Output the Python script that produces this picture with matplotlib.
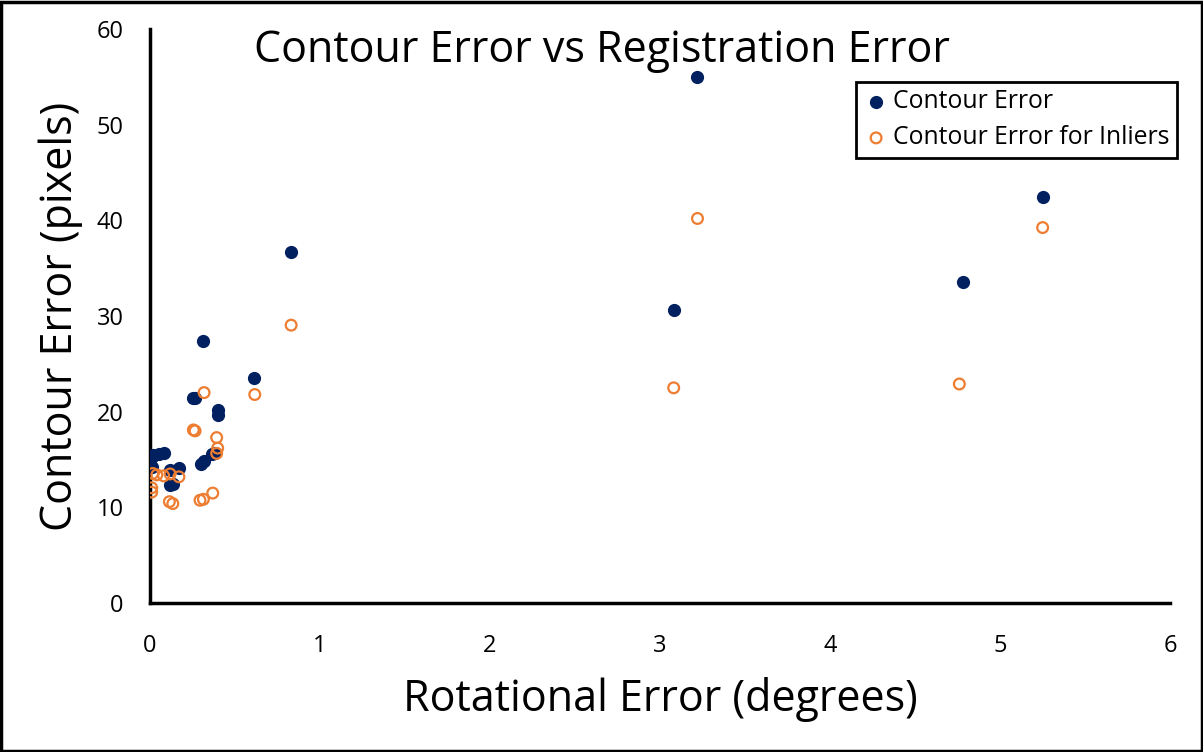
import matplotlib.pyplot as plt
from matplotlib.patches import Rectangle

plt.rcParams['font.family'] = ['Open Sans', 'DejaVu Sans']

# Contour error (all points)
rot_all = [0.314, 0.614, 0.255, 0.265, 0.398, 0.398, 0.02, 0.05, 0.08, 0.01, 0.01,
           0.118, 0.17, 0.12, 0.137, 0.30, 0.318, 0.363, 0.38, 0.83, 3.22, 3.08, 4.78, 5.25]
err_all = [27.4, 23.55, 21.45, 21.45, 20.2, 19.65, 15.5, 15.6, 15.7, 15.3, 14.25,
           13.9, 14.1, 12.3, 12.5, 14.5, 14.8, 15.6, 15.7, 36.7, 55.0, 30.6, 33.55, 42.4]

# Contour error for inliers
rot_in = [0.83, 0.318, 0.616, 0.255, 0.265, 0.392, 0.398, 0.392, 0.016, 0.04, 0.08,
          0.118, 0.17, 0.01, 0.01, 0.114, 0.134, 0.294, 0.314, 0.369, 3.08, 3.22, 4.76, 5.25]
err_in = [29.05, 22.0, 21.8, 18.1, 18.0, 17.3, 16.2, 15.65, 13.55, 13.4, 13.3,
          13.5, 13.2, 12.05, 11.6, 10.6, 10.4, 10.75, 10.85, 11.5, 22.5, 40.2, 22.9, 39.25]

fig = plt.figure(figsize=(12.03, 7.52), dpi=100)
ax = fig.add_axes([0.1247, 0.198, 0.848, 0.7634])

ax.scatter(rot_all, err_all, s=72, color='#002060', label='Contour Error', zorder=3)
ax.scatter(rot_in, err_in, s=60, facecolors='none', edgecolors='#ED7D31',
           linewidths=1.6, label='Contour Error for Inliers', zorder=4)

ax.set_xlim(0, 6)
ax.set_ylim(0, 60)
ax.set_xticks(range(0, 7))
ax.set_yticks(range(0, 61, 10))
ax.tick_params(length=0, labelsize=17)
ax.tick_params(axis='x', pad=22)
ax.tick_params(axis='y', pad=19)
for s in ['top', 'right']:
    ax.spines[s].set_visible(False)
for s in ['left', 'bottom']:
    ax.spines[s].set_linewidth(2.5)
    ax.spines[s].set_color('black')

ax.set_xlabel('Rotational Error (degrees)', fontsize=31, labelpad=14)
ax.set_ylabel('Contour Error (pixels)', fontsize=31, labelpad=10)
fig.text(0.5, 0.932, 'Contour Error vs Registration Error', ha='center', va='center', fontsize=31)

leg = ax.legend(loc='upper right', bbox_to_anchor=(1.007, 0.908), fontsize=17.8, frameon=True,
                fancybox=False, framealpha=1, handletextpad=0.2, borderpad=0.3,
                labelspacing=0.45, handlelength=1.0, borderaxespad=0)
leg.get_frame().set_edgecolor('black')
leg.get_frame().set_linewidth(2)

fig.patches.append(Rectangle((0.001, 0.001), 0.998, 0.997, transform=fig.transFigure,
                             fill=False, edgecolor='black', linewidth=2.5))

fig.savefig('out.png', dpi=100)
